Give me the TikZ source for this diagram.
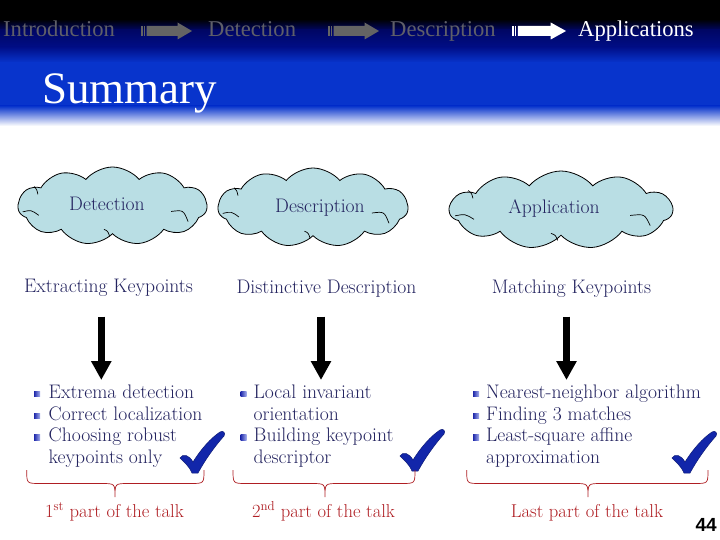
\documentclass[tikz,border=0pt]{standalone}
\usepackage{fontspec}
\newfontfamily\hdrfont{Liberation Serif}
\newfontfamily\pagefont{Liberation Sans}
\usetikzlibrary{shapes.symbols,arrows.meta}
\definecolor{navytext}{RGB}{35,35,95}
\definecolor{talkred}{RGB}{175,30,35}
\definecolor{cloudfill}{RGB}{185,222,228}
\definecolor{checkblue}{RGB}{18,38,170}
\definecolor{hdrgray}{RGB}{95,95,105}
\definecolor{hdrnavy}{RGB}{0,6,100}
\definecolor{hdrnavyb}{RGB}{0,14,135}
\definecolor{hdrblue}{RGB}{8,52,204}
\definecolor{arrowgray}{RGB}{100,100,100}
\definecolor{bulletdark}{RGB}{30,40,170}
\definecolor{bulletlight}{RGB}{170,180,240}
\newcommand{\cloudstrokes}[3]{%
  \begin{scope}[shift={(#1.center)}, x=#2pt, y=-#3pt, line width=0.7pt]
    \draw (-0.95,0.15) .. controls (-0.86,0.10) .. (-0.78,0.24);
    \draw (0.62,0.14) .. controls (0.75,0.10) .. (0.80,0.40);
    \draw (-0.83,-0.50) .. controls (-0.80,-0.42) .. (-0.79,-0.30);
    \draw (-0.09,0.60) .. controls (-0.05,0.64) .. (-0.03,0.78);
  \end{scope}}
\begin{document}
\begin{tikzpicture}[x=1pt,y=-1pt,
  hdrtext/.style={font=\hdrfont\fontsize{22.6}{24}\selectfont, inner sep=0pt, anchor=base west},
  bodytext/.style={font=\fontsize{19.6}{22}\selectfont, text=navytext, inner sep=0pt},
  listline/.style={bodytext, anchor=base west},
  redtext/.style={font=\fontsize{18.6}{21}\selectfont, text=talkred, inner sep=0pt, anchor=base},
  cloudnode/.style={cloud, cloud puffs=11, cloud puff arc=100, aspect=2.4, draw=black, fill=cloudfill, line width=0.8pt, inner sep=0pt},
  bigarrow/.style={line width=7.3pt, -{Triangle[width=19.3pt,length=19pt]}},
  bracestyle/.style={draw=talkred, line width=0.7pt},
  hdrarrow/.pic={
    \fill (0,26) rectangle (1.5,36);
    \fill (2.7,26) rectangle (4.2,36);
    \fill (5.5,26) -- (36.5,26) -- (36.5,22.5) -- (51,31) -- (36.5,39.5) -- (36.5,36) -- (5.5,36) -- cycle;
  },
  checkmark/.pic={
    \filldraw[fill=checkblue, draw=checkblue!70!black, line width=0.5pt]
      (-13,-14) .. controls (-10,-19) and (-4,-17) .. (0,-10)
      .. controls (8,-23) and (18,-34) .. (27,-40)
      .. controls (30,-42) and (33,-39) .. (31,-36)
      .. controls (22,-26) and (12,-12) .. (5,1)
      -- (-1,1) .. controls (-4,-6) and (-9,-10) .. cycle;
  },
  bulletsq/.pic={
    \shade[left color=bulletdark, right color=bulletlight] (0,-6.6) rectangle (6.2,-1.2);
  }
]
\useasboundingbox (0,0) rectangle (720,540);
\fill[white] (0,0) rectangle (720,540);
% header band
\fill[black] (0,0) rectangle (720,19.5);
\shade[top color=black, bottom color=hdrnavy] (0,19) rectangle (720,30.5);
\shade[top color=hdrnavy, bottom color=hdrnavyb] (0,30) rectangle (720,47.5);
\shade[top color=hdrnavyb, bottom color=hdrblue] (0,47) rectangle (720,62.5);
\fill[hdrblue] (0,62) rectangle (720,106.5);
\shade[top color=hdrblue, bottom color=white] (0,106) rectangle (720,126);

% header navigation
\node[hdrtext, text=hdrgray] (intro) at (3,37) {Introduction};
\pic[arrowgray] at (141,0) {hdrarrow};
\node[hdrtext, text=hdrgray] (navdet) at (208,37) {Detection};
\pic[arrowgray] at (328,0) {hdrarrow};
\node[hdrtext, text=hdrgray] (navdesc) at (390,37) {Description};
\pic[white, xscale=1.06] at (512,0) {hdrarrow};
\node[hdrtext, text=white] (navapp) at (578,37) {Applications};

% title
\node[font=\hdrfont\fontsize{45}{48}\selectfont, text=white, inner sep=0pt, anchor=base west] (title) at (42,104) {Summary};

% clouds
\node[cloudnode, minimum width=189pt, minimum height=78pt] (c1) at (112.5,206) {};
\node[cloudnode, minimum width=190pt, minimum height=79pt] (c2) at (313,207.5) {};
\node[cloudnode, minimum width=223pt, minimum height=78pt] (c3) at (561,210) {};
\cloudstrokes{c1}{94.5}{39}
\cloudstrokes{c2}{95}{39.5}
\cloudstrokes{c3}{111.5}{39}
\node[bodytext, anchor=base] (c1lbl) at (107,210.7) {Detection};
\node[bodytext, anchor=base] (c2lbl) at (320,212.7) {Description};
\node[bodytext, anchor=base] (c3lbl) at (554,213.3) {Application};

% headings
\node[bodytext, anchor=base] (h1) at (108.5,292.7) {Extracting Keypoints};
\node[bodytext, anchor=base] (h2) at (326.5,293) {Distinctive Description};
\node[bodytext, anchor=base] (h3) at (571.5,293.3) {Matching Keypoints};

% down arrows
\coordinate (a1s) at (101.3,316.7);
\coordinate (a1e) at (101.3,380);
\coordinate (a2s) at (321,316.7);
\coordinate (a2e) at (321,380);
\coordinate (a3s) at (566.5,316.7);
\coordinate (a3e) at (566.5,380);
\draw[bigarrow] (a1s) -- (a1e);
\draw[bigarrow] (a2s) -- (a2e);
\draw[bigarrow] (a3s) -- (a3e);

% lists column 1
\pic at (34,398) {bulletsq};
\pic at (34,420) {bulletsq};
\pic at (34,441.5) {bulletsq};
\node[listline] (l11) at (48.5,398) {Extrema detection};
\node[listline] (l12) at (48.5,420) {Correct localization};
\node[listline] (l13) at (48.5,441.5) {Choosing robust};
\node[listline] (l14) at (48.5,463) {keypoints only};
% column 2
\pic at (240.5,398) {bulletsq};
\pic at (240.5,441.5) {bulletsq};
\node[listline] (l21) at (253.5,398) {Local invariant};
\node[listline] (l22) at (253.5,420) {orientation};
\node[listline] (l23) at (253.5,441.5) {Building keypoint};
\node[listline] (l24) at (253.5,463) {descriptor};
% column 3
\pic at (473,398) {bulletsq};
\pic at (473,420) {bulletsq};
\pic at (473,441.5) {bulletsq};
\node[listline] (l31) at (486,398) {Nearest-neighbor algorithm};
\node[listline] (l32) at (486,420) {Finding 3 matches};
\node[listline] (l33) at (486,441.5) {Least-square affine};
\node[listline] (l34) at (486,463) {approximation};

% check marks
\pic at (193,472) {checkmark};
\pic at (413,470) {checkmark};
\pic at (685,472) {checkmark};

% braces
\draw[bracestyle] (26.7,470) .. controls (26.7,483.5) .. (40.2,483.5) -- (101.5,483.5) .. controls (115,483.5) .. (115,497) .. controls (115,483.5) .. (128.5,483.5) -- (190.5,483.5) .. controls (204,483.5) .. (204,470);
\draw[bracestyle] (233,470) .. controls (233,483.5) .. (246.5,483.5) -- (311.5,483.5) .. controls (325,483.5) .. (325,497) .. controls (325,483.5) .. (338.5,483.5) -- (401.5,483.5) .. controls (415,483.5) .. (415,470);
\draw[bracestyle] (466.7,470) .. controls (466.7,483.5) .. (480.2,483.5) -- (574.5,483.5) .. controls (588,483.5) .. (588,497) .. controls (588,483.5) .. (601.5,483.5) -- (694.5,483.5) .. controls (708,483.5) .. (708,470);

% red labels
\node[redtext] (t1) at (114.5,517) {1\textsuperscript{st} part of the talk};
\node[redtext] (t2) at (323.5,517) {2\textsuperscript{nd} part of the talk};
\node[redtext] (t3) at (587,517) {Last part of the talk};

% page number
\node[font=\pagefont\bfseries\fontsize{19}{19}\selectfont, inner sep=0pt, anchor=base east] (pnum) at (717,531) {44};
\end{tikzpicture}
\end{document}
